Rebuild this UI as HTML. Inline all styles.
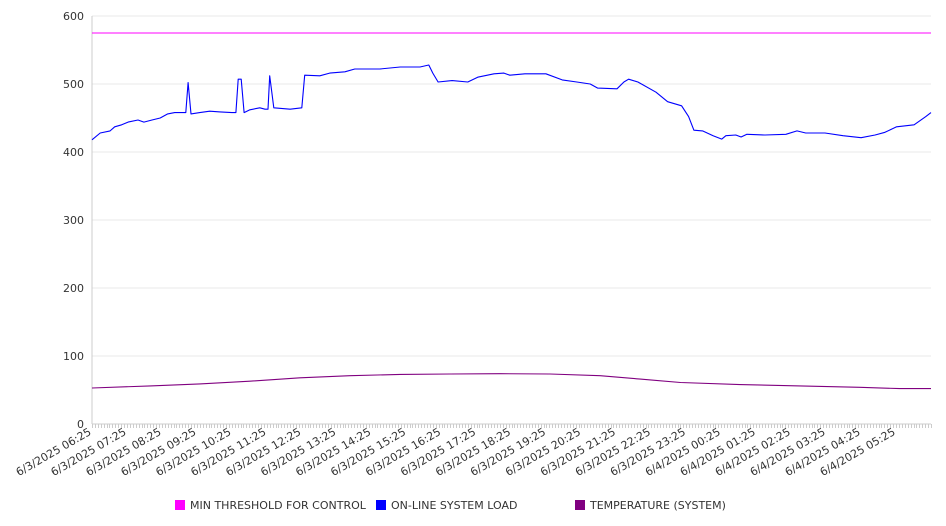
<!DOCTYPE html>
<html><head><meta charset="utf-8"><style>
html,body{margin:0;padding:0;background:#fff;}
svg{display:block;font-family:"DejaVu Sans","Liberation Sans",sans-serif;}
</style></head><body>
<svg id="chart" width="946" height="526">
<g id="grid"></g>
<g id="yaxis"></g>
<g id="xaxis"></g>
<g id="series"></g>
<g id="legend">
  <rect x="175" y="500" width="10" height="10" fill="#ff00ff"/>
  <text x="190" y="509" font-size="11" fill="#333">MIN THRESHOLD FOR CONTROL</text>
  <rect x="376" y="500" width="10" height="10" fill="#0000ff"/>
  <text x="391" y="509" font-size="11" fill="#333">ON-LINE SYSTEM LOAD</text>
  <rect x="575" y="500" width="10" height="10" fill="#800080"/>
  <text x="590" y="509" font-size="11" fill="#333">TEMPERATURE (SYSTEM)</text>
</g>
</svg>
<script>
const yTicks = [0,100,200,300,400,500,600];
const xTickLabels = ["6/3/2025 06:25","6/3/2025 07:25","6/3/2025 08:25","6/3/2025 09:25","6/3/2025 10:25","6/3/2025 11:25","6/3/2025 12:25","6/3/2025 13:25","6/3/2025 14:25","6/3/2025 15:25","6/3/2025 16:25","6/3/2025 17:25","6/3/2025 18:25","6/3/2025 19:25","6/3/2025 20:25","6/3/2025 21:25","6/3/2025 22:25","6/3/2025 23:25","6/4/2025 00:25","6/4/2025 01:25","6/4/2025 02:25","6/4/2025 03:25","6/4/2025 04:25","6/4/2025 05:25"];
// minutes since 6/3/2025 06:25
const loadMinutes = [0,14,31,39,51,62,79,89,103,117,130,142,158,161,165,170,185,202,220,240,247,251,256,261,271,288,297,302,305,312,340,360,365,391,408,434,451,494,529,563,578,585,594,618,645,662,690,707,717,743,779,807,832,855,868,901,913,921,937,968,988,1012,1024,1033,1048,1066,1081,1088,1105,1114,1124,1155,1191,1210,1225,1258,1289,1320,1344,1361,1381,1411,1431,1440];
const loadValues = [418,428,431,437,440,444,447,444,447,450,456,458,458,458,502,456,458,460,459,458,458,507,507,458,462,465,463,463,512,465,463,465,513,512,516,518,522,522,525,525,528,516,503,505,503,510,515,516,513,515,515,506,503,500,494,493,503,507,503,488,474,468,452,432,431,424,419,424,425,422,426,425,426,431,428,428,424,421,425,429,437,440,452,458];
const tempMinutes = [0,100,185,271,357,443,529,615,700,786,872,941,1010,1112,1215,1318,1386,1440];
const tempValues = [53,56,59,63,68,71,73,73.5,74,73.5,71,66,61,58,56,54,52,52];
const thresholdMinutes = [0,1440];
const thresholdValues = [575,575];

const NS="http://www.w3.org/2000/svg";
const X0=92,X1=931,Y0=424,Y1=16,TMAX=1440,VMAX=600;
const xs=t=>X0+(t/TMAX)*(X1-X0);
const ys=v=>Y0-(v/VMAX)*(Y0-Y1);
function mk(tag,attrs,parent){const e=document.createElementNS(NS,tag);for(const k in attrs)e.setAttribute(k,attrs[k]);parent.appendChild(e);return e;}
const grid=document.getElementById('grid'),yax=document.getElementById('yaxis'),xax=document.getElementById('xaxis'),ser=document.getElementById('series');
yTicks.forEach(v=>{
  const l=mk('line',{x1:X0,x2:X1,y1:ys(v),y2:ys(v),stroke:v===0?'#ccc':'#e8e8e8','stroke-width':1},grid);
  
  
  const t=mk('text',{x:X0-8,y:ys(v)+4,'text-anchor':'end','font-size':11,fill:'#333'},yax);
  t.textContent=v;
  
  
});
const axl=mk('line',{x1:X0,x2:X0,y1:Y1,y2:Y0,stroke:'#ccc'},yax);


let d='';
for(let m=0;m<=TMAX;m+=5){const x=Math.round(xs(m))+0.5;d+=`M${x} ${Y0}V${Y0+4}`;}
const tk=mk('path',{d:d,stroke:'#ccc','stroke-width':1},xax);


xTickLabels.forEach((s,i)=>{
  const x=xs(i*60),y=Y0+10;
  const t=mk('text',{x:x,y:y,'text-anchor':'end','font-size':11,fill:'#333',transform:`rotate(-30 ${x} ${y})`},xax);
  t.textContent=s;
  
  
});
function line(ts,vs,color,name){
  const pts=ts.map((t,i)=>xs(t).toFixed(1)+','+ys(vs[i]).toFixed(1)).join(' ');
  const p=mk('polyline',{points:pts,fill:'none',stroke:color,'stroke-width':1.1,'stroke-linejoin':'round'},ser);
  
  
}
line(thresholdMinutes,thresholdValues,'#ff00ff','threshold-line');
line(tempMinutes,tempValues,'#800080','temperature-line');
line(loadMinutes,loadValues,'#0000ff','system-load-line');
</script>
</body></html>
